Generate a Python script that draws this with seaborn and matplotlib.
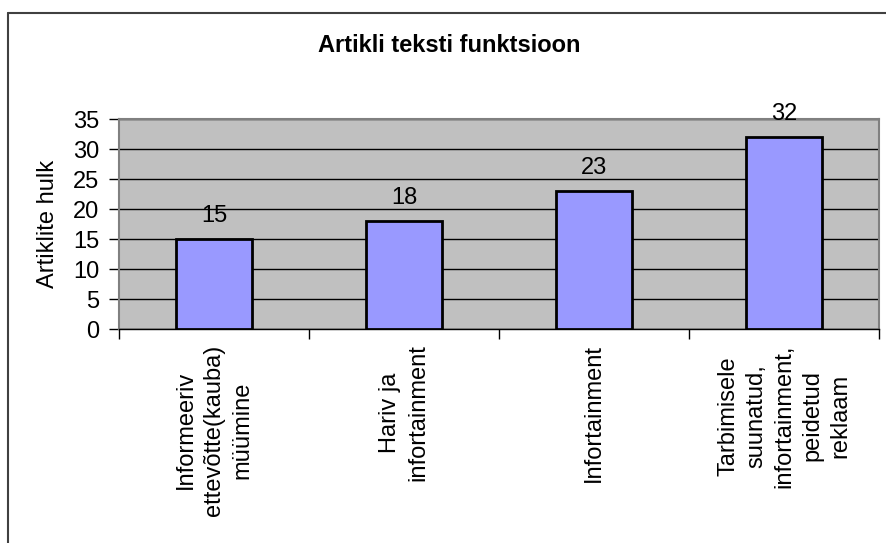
import matplotlib
matplotlib.use("Agg")
import matplotlib.pyplot as plt
from matplotlib.lines import Line2D
from matplotlib.ticker import FixedLocator
import seaborn as sns
import pandas as pd

categories = [
    "Informeeriv\nettevõtte(kauba)\nmüümine",
    "Hariv ja\ninfortainment",
    "Infortainment",
    "Tarbimisele\nsuunatud,\ninfortainment,\npeidetud\nreklaam",
]
values = [15, 18, 23, 32]
yticks = [0, 5, 10, 15, 20, 25, 30, 35]
title = "Artikli teksti funktsioon"
ylabel = "Artiklite hulk"

sns.set_style("white")
plt.rcParams["font.family"] = ["Liberation Sans", "DejaVu Sans"]
plt.rcParams["text.color"] = "black"
plt.rcParams["axes.labelcolor"] = "black"
plt.rcParams["xtick.color"] = "black"
plt.rcParams["ytick.color"] = "black"

df = pd.DataFrame({"cat": categories, "val": values})

W, H = 886, 543
fig = plt.figure(figsize=(W / 100, H / 100), dpi=100)
fig.patch.set_facecolor("white")
ax = fig.add_axes([119 / W, 1 - 329 / H, (879 - 119) / W, (329 - 119) / H])
ax.set_facecolor("#C0C0C0")

sns.barplot(data=df, x="cat", y="val", color="#9999FF", width=0.405,
            edgecolor="black", linewidth=2, saturation=1, ax=ax, zorder=3)

ax.set_ylim(0, 35)
ax.set_xlim(-0.5, len(categories) - 0.5)
ax.set_yticks(yticks)
ax.yaxis.grid(True, color="black", linewidth=1, zorder=1)
ax.set_axisbelow(True)
ax.tick_params(axis="y", which="major", length=7, width=1, color="black",
               labelcolor="black", labelsize=17, pad=7, left=True)
ax.tick_params(axis="x", which="major", length=0, labelsize=17, pad=11,
               labelcolor="black")
ax.xaxis.set_minor_locator(FixedLocator([i - 0.5 for i in range(len(categories) + 1)]))
ax.tick_params(axis="x", which="minor", length=7, width=1, color="black", bottom=True)
for lab in ax.get_xticklabels():
    lab.set_rotation(90)
    lab.set_ha("center")
    lab.set_va("top")
    lab.set_multialignment("center")
    lab.set_linespacing(1.35)

ax.set_xlabel("")
ax.set_ylabel(ylabel, fontsize=17, labelpad=10, color="black")

for s in ["top", "right", "left"]:
    ax.spines[s].set_color("#808080")
    ax.spines[s].set_linewidth(1.5)
ax.spines["bottom"].set_color("black")
ax.spines["bottom"].set_linewidth(1)

for i, v in enumerate(values):
    ax.annotate(str(v), (i, v), xytext=(0, 9), textcoords="offset points",
                ha="center", va="bottom", fontsize=17, clip_on=False, zorder=5,
                color="black")

fig.text(0.5 * (318 + 580) / W, 1 - 45 / H, title, ha="center", va="center",
         fontsize=17, fontweight="bold", color="black")

fig.add_artist(Line2D([8 / W, 8 / W], [0, 1 - 13 / H], color="#404040", linewidth=1.5,
                      transform=fig.transFigure))
fig.add_artist(Line2D([8 / W, 1], [1 - 13 / H, 1 - 13 / H], color="#404040", linewidth=1.5,
                      transform=fig.transFigure))

fig.savefig("out.png", dpi=100)
